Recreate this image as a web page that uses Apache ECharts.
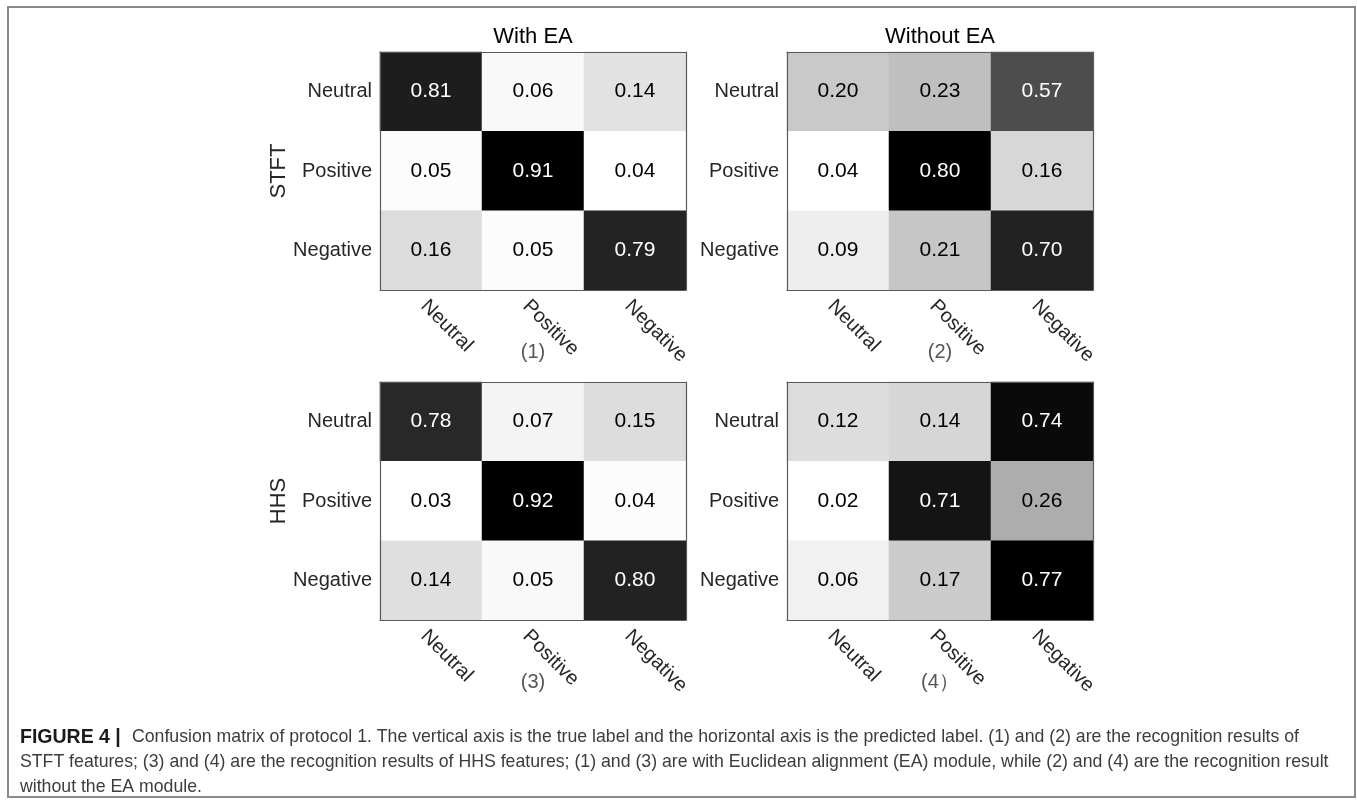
<!DOCTYPE html>
<html>
<head>
<meta charset="utf-8">
<title>Confusion matrix of protocol 1</title>
<script src="https://cdn.jsdelivr.net/npm/echarts@6/dist/echarts.min.js"></script>
<style>
  html, body { margin: 0; padding: 0; background: #fff; }
  #main { width: 1357px; height: 804px; }
</style>
</head>
<body>
<div id="main"></div>
<script>
// class order, same on both axes (rows = true label, cols = predicted)
const classes = ['Neutral', 'Positive', 'Negative'];

const stftWithEA = [
  [0.81, 0.06, 0.14],
  [0.05, 0.91, 0.04],
  [0.16, 0.05, 0.79]
];
const stftWithoutEA = [
  [0.20, 0.23, 0.57],
  [0.04, 0.80, 0.16],
  [0.09, 0.21, 0.70]
];
const hhsWithEA = [
  [0.78, 0.07, 0.15],
  [0.03, 0.92, 0.04],
  [0.14, 0.05, 0.80]
];
const hhsWithoutEA = [
  [0.12, 0.14, 0.74],
  [0.02, 0.71, 0.26],
  [0.06, 0.17, 0.77]
];

const columnTitles = ['With EA', 'Without EA'];
const rowTitles = ['STFT', 'HHS'];
const panelTags = ['(1)', '(2)', '(3)', '(4\uFF09'];

const captionLines = [
  '{b|FIGURE 4 |}Confusion matrix of protocol 1. The vertical axis is the true label and the horizontal axis is the predicted label. (1) and (2) are the recognition results of',
  'STFT features; (3) and (4) are the recognition results of HHS features; (1) and (3) are with Euclidean alignment (EA) module, while (2) and (4) are the recognition result',
  'without the EA module.'
];

// layout
const FONT = 'Liberation Sans';
const gridLefts = [380, 787];
const gridTops = [52, 382];
const gridW = 306, gridH = 238;
const lineColor = '#5a5a5a';

const matrices = [stftWithEA, stftWithoutEA, hhsWithEA, hhsWithoutEA];

const grids = [], xAxes = [], yAxes = [], series = [], visualMaps = [];

matrices.forEach(function (m, i) {
  const r = Math.floor(i / 2), c = i % 2;
  const flat = [].concat.apply([], m);
  const vmin = Math.min.apply(null, flat);
  const vmax = Math.max.apply(null, flat);

  grids.push({ left: gridLefts[c], top: gridTops[r], width: gridW, height: gridH, containLabel: false, outerBoundsMode: 'none' });

  // bottom axis with labels + panel tag
  xAxes.push({
    type: 'category', gridIndex: i, data: classes, z: 10,
    axisLine: { lineStyle: { color: lineColor, width: 1.2 } },
    axisTick: { inside: true, length: 4, alignWithLabel: true, lineStyle: { color: lineColor } },
    axisLabel: { rotate: -45, fontSize: 20, color: '#262626', margin: 6, verticalAlign: 'top', fontFamily: FONT },
    splitLine: { show: false },
    name: panelTags[i], nameLocation: 'middle', nameGap: 52, nameMoveOverlap: false,
    nameTextStyle: { fontSize: 20, color: '#555', fontFamily: FONT }
  });
  // top axis: box edge, ticks, column title
  xAxes.push({
    type: 'category', gridIndex: i, data: classes, position: 'top', z: 10,
    axisLine: { lineStyle: { color: lineColor, width: 1.2 } },
    axisTick: { inside: true, length: 4, alignWithLabel: true, lineStyle: { color: lineColor } },
    axisLabel: { show: false },
    name: r === 0 ? columnTitles[c] : '', nameLocation: 'middle', nameGap: 4, nameMoveOverlap: false,
    nameTextStyle: { fontSize: 22, color: '#000', fontFamily: FONT }
  });
  yAxes.push({
    type: 'category', gridIndex: i, data: classes, inverse: true, z: 10,
    axisLine: { lineStyle: { color: lineColor, width: 1.2 } },
    axisTick: { inside: true, length: 4, alignWithLabel: true, lineStyle: { color: lineColor } },
    axisLabel: { fontSize: 20, color: '#262626', margin: 8, fontFamily: FONT },
    name: c === 0 ? rowTitles[r] : '', nameLocation: 'middle', nameRotate: 90, nameGap: 90, nameMoveOverlap: false,
    nameTextStyle: { fontSize: 22, color: '#262626', fontFamily: FONT }
  });
  yAxes.push({
    type: 'category', gridIndex: i, data: classes, inverse: true, position: 'right', z: 10,
    axisLine: { lineStyle: { color: lineColor, width: 1.2 } },
    axisTick: { inside: true, length: 4, alignWithLabel: true, lineStyle: { color: lineColor } },
    axisLabel: { show: false }
  });

  const data = [];
  m.forEach(function (row, ri) {
    row.forEach(function (v, ci) {
      const dark = (v - vmin) / (vmax - vmin) > 0.5;
      data.push({ value: [ci, ri, v], label: { color: dark ? '#ffffff' : '#000000' } });
    });
  });

  series.push({
    type: 'heatmap', xAxisIndex: 2 * i, yAxisIndex: 2 * i, data: data,
    label: {
      show: true, fontSize: 21, fontFamily: FONT,
      formatter: function (p) { return p.value[2].toFixed(2); }
    },
    itemStyle: { borderWidth: 0 },
    emphasis: { disabled: true }
  });

  visualMaps.push({
    type: 'continuous', show: false, seriesIndex: i, dimension: 2,
    min: vmin, max: vmax, inRange: { color: ['#ffffff', '#000000'] }
  });
});

const chart = echarts.init(document.getElementById('main'));
chart.setOption({
  backgroundColor: '#fff',
  animation: false,
  textStyle: { fontFamily: FONT },
  grid: grids,
  xAxis: xAxes,
  yAxis: yAxes,
  visualMap: visualMaps,
  series: series,
  graphic: [
    {
      type: 'rect', z: 100, silent: true,
      shape: { x: 8, y: 7, width: 1347, height: 790 },
      style: { fill: 'none', stroke: '#8a8a8a', lineWidth: 2 }
    },
    {
      type: 'text', left: 20, top: 725, z: 100, silent: true,
      style: {
        text: captionLines.join('\n'),
        fill: '#3c3c3c', fontSize: 17.7, fontFamily: FONT, lineHeight: 25,
        rich: { b: { fill: '#1a1a1a', fontWeight: 'bold', fontSize: 19.5, fontFamily: FONT, lineHeight: 25, width: 112 } }
      }
    }
  ]
});
</script>
</body>
</html>
